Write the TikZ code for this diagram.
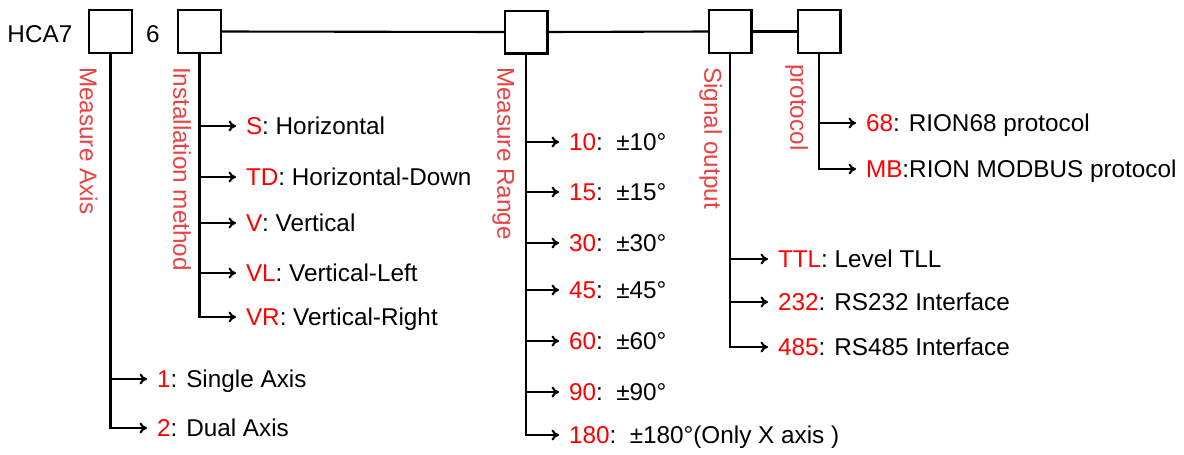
\documentclass[tikz,border=0pt]{standalone}
\usepackage{fontspec}
\setmainfont{Liberation Sans}
\usetikzlibrary{arrows.meta}
\definecolor{lab}{RGB}{233,66,66}
\definecolor{code}{RGB}{255,0,0}
\begin{document}
\begin{tikzpicture}[x=1pt,y=-1pt,
 every node/.style={font=\fontsize{24.3}{28}\selectfont, inner sep=0pt, outer sep=0pt},
 box/.style={draw, line width=2.3pt, minimum width=42.7pt, minimum height=42.7pt},
 item/.style={anchor=west, text height=17.4pt, text depth=0pt},
 cat/.style={anchor=west, rotate=-90, text height=17.4pt, text depth=0pt, text=lab},
 link/.style={line width=2.1pt},
 branch/.style={line width=2.1pt, -{To[length=7.5pt,width=11pt]}, shorten >=10pt},
]
\useasboundingbox (0,0) rectangle (1184,455);

% header
\node[item] (hca) at (7.5,34) {HCA7};
\node[box] (b1) at (110.5,31.5) {};
\node[item] (six) at (146,34) {6};
\node[box] (b2) at (199.5,31.5) {};
\node[box] (b3) at (526,32) {};
\node[box] (b4) at (730,31.5) {};
\node[box] (b5) at (819,31.5) {};
\draw[link] (b2.east) -- (b3.west);
\draw[link] (b3.east) -- (b4.west);
\draw[link] (b4.east) -- (b5.west);

% category labels
\node[cat] (c1) at (88.5,67) {Measure Axis};
\node[cat] (c2) at (182,67) {Installation method};
\node[cat] (c3) at (506,67) {Measure Range};
\node[cat] (c4) at (713,67) {Signal output};
\node[cat] (c5) at (799,64) {protocol};

% column 1
\node[item] (a1) at (157,379) {\textcolor{code}{1}: Single Axis};
\node[item] (a2) at (157,428) {\textcolor{code}{2}: Dual Axis};
\foreach \n in {a1,a2} \draw[branch] (b1.south) |- (\n.west);

% column 2
\node[item] (m1) at (246,126) {\textcolor{code}{S}: Horizontal};
\node[item] (m2) at (246,177) {\textcolor{code}{TD}: Horizontal-Down};
\node[item] (m3) at (246,223) {\textcolor{code}{V}: Vertical};
\node[item] (m4) at (246,273) {\textcolor{code}{VL}: Vertical-Left};
\node[item] (m5) at (246,317) {\textcolor{code}{VR}: Vertical-Right};
\foreach \n in {m1,m2,m3,m4,m5} \draw[branch] (b2.south) |- (\n.west);

% column 3
\node[item] (r1) at (569,142) {\textcolor{code}{10}:~~±10°};
\node[item] (r2) at (569,192) {\textcolor{code}{15}:~~±15°};
\node[item] (r3) at (569,243) {\textcolor{code}{30}:~~±30°};
\node[item] (r4) at (569,290) {\textcolor{code}{45}:~~±45°};
\node[item] (r5) at (569,341) {\textcolor{code}{60}:~~±60°};
\node[item] (r6) at (569,392) {\textcolor{code}{90}:~~±90°};
\node[item] (r7) at (569,435) {\textcolor{code}{180}:~~±180°(Only X axis )};
\foreach \n in {r1,r2,r3,r4,r5,r6,r7} \draw[branch] (b3.south) |- (\n.west);

% column 4
\node[item] (s1) at (778,259) {\textcolor{code}{TTL}: Level TLL};
\node[item] (s2) at (778,302) {\textcolor{code}{232}: RS232 Interface};
\node[item] (s3) at (778,347) {\textcolor{code}{485}: RS485 Interface};
\foreach \n in {s1,s2,s3} \draw[branch] (b4.south) |- (\n.west);

% column 5
\node[item] (p1) at (866,123) {\textcolor{code}{68}: RION68 protocol};
\node[item] (p2) at (866,169) {\textcolor{code}{MB}:RION MODBUS protocol};
\foreach \n in {p1,p2} \draw[branch] (b5.south) |- (\n.west);
\end{tikzpicture}
\end{document}
